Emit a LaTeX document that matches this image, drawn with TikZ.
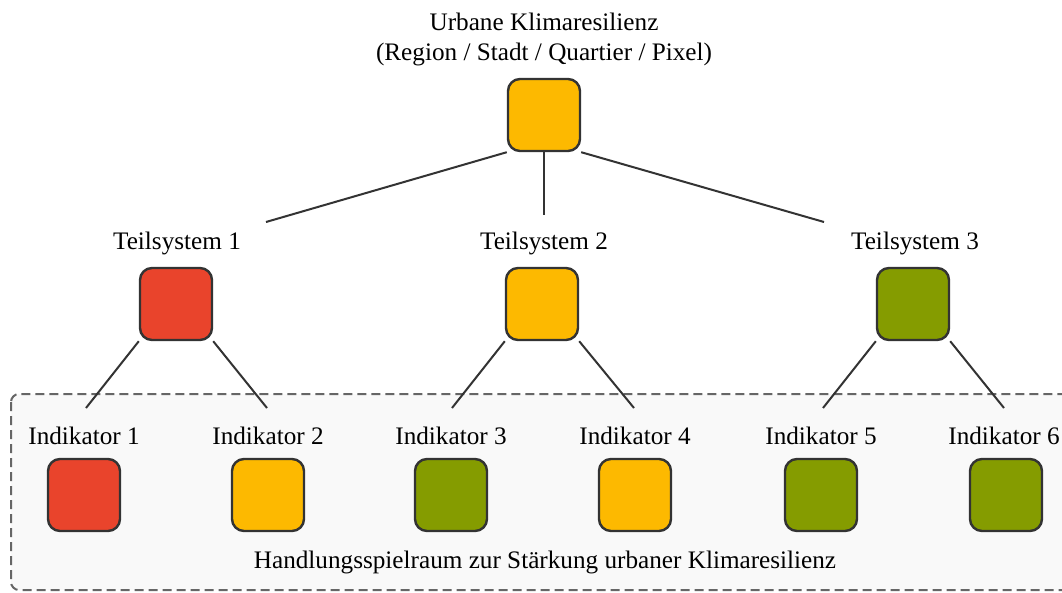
\documentclass[tikz,border=0pt]{standalone}
\usepackage{fontspec}
\setmainfont{Liberation Serif}
\definecolor{lvred}{HTML}{E9442C}
\definecolor{lvorange}{HTML}{FDB900}
\definecolor{lvgreen}{HTML}{859C00}
\definecolor{edgegray}{HTML}{333333}
\definecolor{framegray}{HTML}{666666}
\definecolor{panelfill}{HTML}{F9F9F9}
\begin{document}
\begin{tikzpicture}[x=1pt,y=-1pt,
  tile/.style={draw=edgegray, line width=2.4pt, rounded corners=12pt,
    minimum width=72pt, minimum height=72pt, inner sep=0pt},
  lbl/.style={font=\fontsize{25.2}{30}\selectfont, inner sep=0pt, text=black},
  link/.style={draw=edgegray, line width=2pt}]
\useasboundingbox (0,0) rectangle (1062,592);

% panel for the indicator level
\draw[framegray, fill=panelfill, line width=2pt, dash pattern=on 9pt off 5pt,
  rounded corners=8pt] (11,394) rectangle (1080,590);

% top level
\node[lbl] (tt1) at (544,22) {Urbane Klimaresilienz};
\node[lbl] (tt2) at (544,54) {(Region / Stadt / Quartier / Pixel)};
\node[tile, fill=lvorange] (top) at (544,115) {};

% subsystems
\node[lbl] (l1) at (177,243) {Teilsystem 1};
\node[lbl] (l2) at (544,243) {Teilsystem 2};
\node[lbl] (l3) at (915,243) {Teilsystem 3};
\node[tile, fill=lvred] (s1) at (176,304) {};
\node[tile, fill=lvorange] (s2) at (542,304) {};
\node[tile, fill=lvgreen] (s3) at (913,304) {};

% indicators
\node[lbl] (il1) at (84,436) {Indikator 1};
\node[lbl] (il2) at (268,436) {Indikator 2};
\node[lbl] (il3) at (451,436) {Indikator 3};
\node[lbl] (il4) at (635,436) {Indikator 4};
\node[lbl] (il5) at (821,436) {Indikator 5};
\node[lbl] (il6) at (1004,436) {Indikator 6};
\node[tile, fill=lvred] (i1) at (84,495) {};
\node[tile, fill=lvorange] (i2) at (268,495) {};
\node[tile, fill=lvgreen] (i3) at (451,495) {};
\node[tile, fill=lvorange] (i4) at (635,495) {};
\node[tile, fill=lvgreen] (i5) at (821,495) {};
\node[tile, fill=lvgreen] (i6) at (1006,495) {};

\node[lbl] (hs) at (545,562) {Handlungsspielraum zur Stärkung urbaner Klimaresilienz};

% free ends of the connectors, just above the labels
\coordinate (c1) at (266,222);
\coordinate (c2) at (544,215);
\coordinate (c3) at (824,222);
\coordinate (d1) at (86,408);
\coordinate (d2) at (267,408);
\coordinate (d3) at (452,408);
\coordinate (d4) at (634,408);
\coordinate (d5) at (823,408);
\coordinate (d6) at (1004,408);

\draw[link] (top.south west) -- (c1);
\draw[link] (top.south) -- (c2);
\draw[link] (top.south east) -- (c3);
\draw[link] (s1.south west) -- (d1);
\draw[link] (s1.south east) -- (d2);
\draw[link] (s2.south west) -- (d3);
\draw[link] (s2.south east) -- (d4);
\draw[link] (s3.south west) -- (d5);
\draw[link] (s3.south east) -- (d6);
\end{tikzpicture}
\end{document}
